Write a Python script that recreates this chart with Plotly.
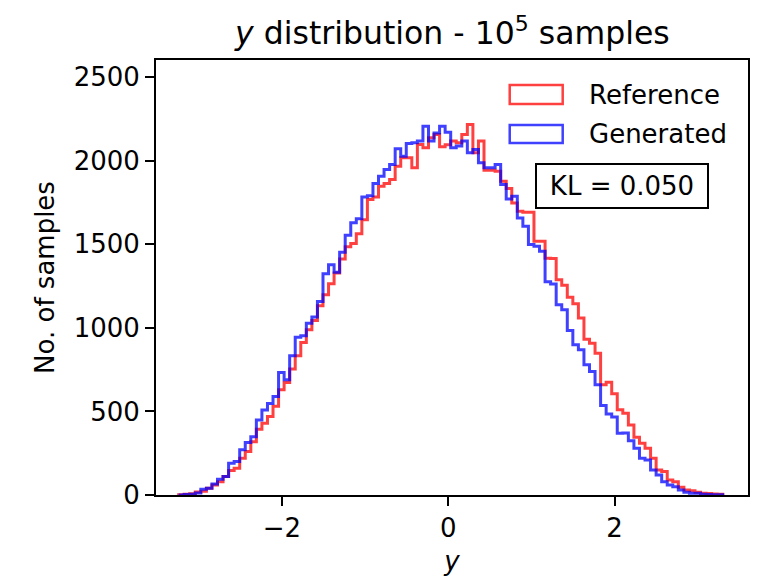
import numpy as np
import plotly.graph_objects as go

# Histogram bins (shared bins)
bin_start = -3.240
bin_width = 0.06674
n_bins = 98

reference_counts = [
    2, 5, 8, 18, 22, 40, 60, 80, 110, 146,
    160, 220, 260, 319, 393, 429, 470, 531, 629, 673,
    753, 833, 912, 988, 1044, 1132, 1198, 1264, 1328, 1412,
    1485, 1505, 1563, 1647, 1767, 1783, 1847, 1863, 1887, 1967,
    2017, 2017, 1957, 2097, 2077, 2137, 2157, 2083, 2095, 2117,
    2107, 2157, 2216, 2047, 2117, 1943, 1943, 1937, 1877, 1833,
    1747, 1697, 1691, 1691, 1518, 1518, 1416, 1414, 1288, 1254,
    1183, 1144, 1058, 932, 908, 848, 659, 675, 605, 510,
    489, 419, 345, 310, 280, 220, 150, 140, 90, 80,
    46, 30, 26, 16, 10, 9, 6, 4,
]

generated_counts = [
    0, 3, 5, 12, 34, 40, 66, 94, 110, 190,
    200, 270, 314, 349, 449, 509, 547, 589, 733, 689,
    833, 943, 952, 1028, 1064, 1158, 1324, 1378, 1332, 1452,
    1554, 1629, 1653, 1783, 1790, 1863, 1907, 1947, 1977, 2071,
    2027, 2103, 2107, 2117, 2206, 2117, 2166, 2206, 2170, 2077,
    2087, 2117, 2047, 2067, 1987, 1957, 1957, 1977, 1857, 1771,
    1787, 1657, 1607, 1498, 1488, 1458, 1276, 1262, 1138, 1108,
    984, 898, 869, 779, 739, 659, 536, 484, 467, 369,
    371, 324, 280, 220, 210, 150, 120, 80, 60, 50,
    30, 16, 10, 10, 5, 3, 1, 1,
]

series_names = ["Reference", "Generated"]
kl_value = 0.050
x_ticks = [-2, 0, 2]
y_ticks = [0, 500, 1000, 1500, 2000, 2500]

edges = bin_start + bin_width * np.arange(n_bins + 1)


def step_xy(counts):
    xs = [edges[0]] + list(edges)
    ys = [0] + list(counts) + [0]
    return xs, ys


colors = ["rgba(255,0,0,0.75)", "rgba(0,0,255,0.75)"]
FONT = "DejaVu Sans"

fig = go.Figure()
for name, counts, col in zip(series_names, [reference_counts, generated_counts], colors):
    xs, ys = step_xy(counts)
    fig.add_trace(go.Scatter(
        x=xs, y=ys, mode="lines", name=name,
        line=dict(color=col, width=3, shape="hv"),
        showlegend=False,
    ))

# Manual legend (matplotlib-style patches)
leg_rows = [(0.9425, 0.899, 0.9195), (0.8506, 0.809, 0.830)]
for (ytop, ybot, ytext), name, col in zip(leg_rows, series_names, colors):
    fig.add_shape(type="rect", xref="paper", yref="paper",
                  x0=0.5975, x1=0.687, y0=ybot, y1=ytop,
                  line=dict(color=col, width=2.5), fillcolor="rgba(0,0,0,0)")
    fig.add_annotation(xref="paper", yref="paper", x=0.7274, y=ytext,
                       xanchor="left", yanchor="middle", showarrow=False,
                       text=name, font=dict(family=FONT, size=26, color="black"))

fig.add_annotation(xref="paper", yref="paper", x=0.7865, y=0.710,
                   xanchor="center", yanchor="middle", showarrow=False,
                   text=f"KL = {kl_value:.3f}", font=dict(family=FONT, size=26, color="black"),
                   bordercolor="black", borderwidth=2, borderpad=6, bgcolor="white",
                   width=158)

fig.update_layout(
    width=761, height=578,
    margin=dict(l=156, r=12.5, t=60, b=83, autoexpand=False),
    paper_bgcolor="white", plot_bgcolor="white",
    font=dict(family=FONT, size=26, color="black"),
    title=dict(text="<i>y</i> distribution - 10<sup>5</sup> samples",
               x=0.5945, xref="container", xanchor="center",
               y=1 - 33 / 578, yref="container", yanchor="middle",
               font=dict(family=FONT, size=31.5, color="black")),
    xaxis=dict(range=[-3.512, 3.604], tickvals=x_ticks, automargin=False,
               showgrid=False, zeroline=False, showline=True, mirror=True,
               linecolor="black", linewidth=2, ticks="outside", ticklen=9,
               tickwidth=2, tickcolor="black",
               tickfont=dict(family=FONT, size=26, color="black"),
               title=dict(text="<i>y</i>", standoff=10,
                          font=dict(family=FONT, size=26, color="black"))),
    yaxis=dict(range=[0, 2602], tickvals=y_ticks, automargin=False,
               showgrid=False, zeroline=False, showline=True, mirror=True,
               linecolor="black", linewidth=2, ticks="outside", ticklen=9,
               tickwidth=2, tickcolor="black",
               tickfont=dict(family=FONT, size=26, color="black"),
               title=dict(text="No. of samples", standoff=12,
                          font=dict(family=FONT, size=26, color="black"))),
)

fig.write_html("out.html")
